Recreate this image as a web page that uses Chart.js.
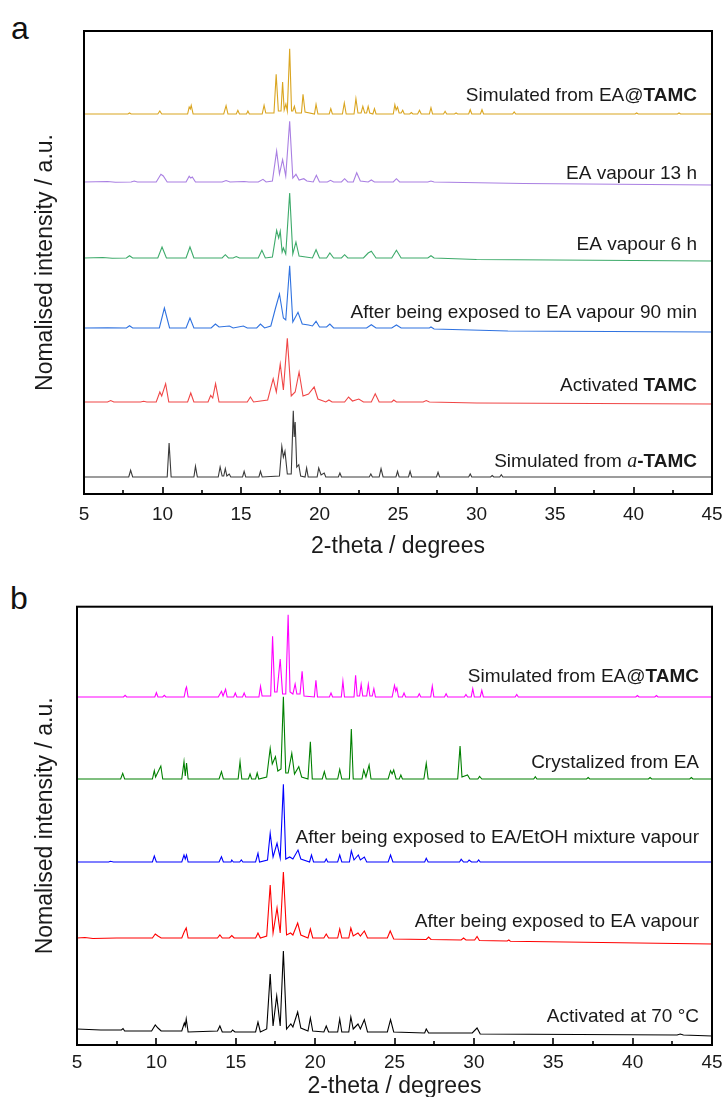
<!DOCTYPE html>
<html>
<head>
<meta charset="utf-8">
<script src="https://cdn.jsdelivr.net/npm/chart.js@4/dist/chart.umd.min.js"></script>
<style>
  html, body { margin: 0; padding: 0; background: #fff; }
  body { width: 723px; height: 1097px; position: relative; overflow: hidden; font-family: "Liberation Sans", Arial, sans-serif; }
  .wrap { position: absolute; left: 0; width: 723px; }
  .plabel { position: absolute; font-family: "Liberation Sans", Arial, sans-serif; font-size: 32px; line-height: 32px; color: #111; }
</style>
</head>
<body>
<div class="plabel" style="left:11px; top:12px;">a</div>
<div class="plabel" style="left:10px; top:582px;">b</div>
<div class="wrap" style="top:0; height:560px;"><canvas id="cA" width="723" height="560"></canvas></div>
<div class="wrap" style="top:560px; height:540px;"><canvas id="cB" width="723" height="540"></canvas></div>
<script>
// ---------- DATA (2-theta, intensity above own baseline, a.u.) ----------
// Panel a
const aSimEA = [[5,0],[7.8,0],[7.9,1],[8.0,0],[9.7,0],[9.83,3],[9.95,0],[11.6,0],[11.7,7],[11.77,5],[11.83,8.7],[11.95,0],
 [13.9,0],[14.05,8.3],[14.17,0],[14.7,0],[14.8,3.7],[14.9,0],[15.35,0],[15.44,3],[15.53,0],[16.35,0],[16.47,8.7],[16.58,1],
 [17.1,1],[17.24,39.7],[17.38,3],[17.55,3],[17.65,32],[17.75,4],[17.86,10],[17.95,3],[18.1,65.3],[18.22,3],[18.3,3],[18.4,7.7],[18.5,1],
 [18.85,1],[18.95,19.7],[19.08,2],[19.68,0],[19.78,9.7],[19.9,0],[20.62,0],[20.72,5.3],[20.82,0],[21.46,0],[21.58,11],[21.7,0],
 [22.2,0],[22.32,15.3],[22.45,1],[22.65,1],[22.76,7.7],[22.88,1],[23.0,1],[23.1,7.7],[23.2,1],[23.4,0],[23.5,5.3],[23.6,0],
 [24.7,0],[24.8,9.3],[24.88,4],[24.97,7],[25.07,1],[25.2,1],[25.3,3.7],[25.4,0],[25.75,0],[25.85,1.5],[25.95,0],[26.25,0],[26.37,3.7],[26.48,0],
 [27.0,0],[27.1,6.3],[27.2,0],[27.9,0],[28.0,2.7],[28.1,0],[28.6,0],[28.7,1],[28.8,0],[29.5,0],[29.6,4.3],[29.7,0],[30.25,0],[30.35,4.3],[30.45,0],
 [32.3,0],[32.4,2],[32.5,0],[40.1,0],[40.2,1],[40.3,0],[42.8,0],[42.9,1],[43.0,0],[45,0]];
const aVap13h = [[5,0],[6.5,0.5],[7.0,-0.3],[8.0,0],[8.2,1],[8.4,0],[9.6,0],[9.9,7.7],[10.05,6],[10.3,0],[11.5,0],[11.7,5.7],[11.8,4],[11.9,5],[12.1,0],
 [13.8,0],[14.05,1.5],[14.3,0],[15.2,0.5],[15.5,0],[16.1,0],[16.4,2.7],[16.6,0],[17.0,1],[17.27,31],[17.45,8],[17.65,22.3],[17.85,6],[18.1,60.7],[18.3,4],
 [18.5,7.7],[18.7,2],[19.0,3.3],[19.2,1],[19.6,0],[19.8,6.7],[20.0,0],[20.5,0],[20.7,1.7],[20.9,0],[21.4,0],[21.6,3.3],[21.8,0],
 [22.15,0],[22.37,9.3],[22.6,1],[23.1,0],[23.3,2],[23.5,0],[24.7,0],[24.9,3.3],[25.1,0],[26.9,0],[27.1,1],[27.3,0],[33,-1.5],[45,-3]];
const aVap6h = [[5,0],[6.2,0.5],[6.8,-0.3],[7.7,0],[7.9,2.3],[8.1,0],[9.7,0],[9.97,11],[10.25,0],[11.5,0],[11.75,11],[12.0,0],[13.8,0],[14.0,3.3],[14.2,0],
 [14.5,0],[14.7,1.5],[14.9,0],[16.1,0],[16.33,7.7],[16.55,0],[17.0,1],[17.27,27.7],[17.4,20],[17.5,26.7],[17.62,6],[17.7,10],[17.85,4],
 [18.1,65],[18.3,4],[18.5,16],[18.7,2],[19.55,0],[19.78,8.3],[20.0,0],[20.45,0],[20.66,5],[20.9,0],[21.4,0],[21.6,3.3],[21.8,0],
 [22.8,0],[23.1,5],[23.3,6.7],[23.6,0],[24.6,0],[24.9,7.7],[25.2,0],[26.9,0],[27.1,2.3],[27.3,0],[30,-1.5],[45,-3]];
const aVap90 = [[5,0],[6.5,0.3],[7.7,0],[7.9,2.3],[8.1,0],[9.8,0],[10.12,20],[10.45,0],[11.5,0],[11.75,10],[12.0,0],[13.1,0],[13.37,4],[13.6,1],
 [14.26,2],[14.5,0],[15.15,2],[15.4,0],[16.0,0],[16.24,4],[16.5,0],[16.9,2],[17.2,20],[17.45,34],[17.7,10],[17.85,8],[18.1,62.3],[18.3,6],
 [18.63,15.7],[18.9,4],[19.3,3],[19.55,2],[19.78,6.7],[20.0,1],[20.45,1],[20.66,4],[20.9,0],[23.0,0],[23.3,3.3],[23.6,0],
 [24.6,0],[24.9,3],[25.2,0],[27.0,0],[27.1,1],[27.3,-1],[32,-3],[45,-4]];
const aActiv = [[5,0],[6.5,0],[6.7,1.5],[6.9,0],[8.6,0],[8.8,0.8],[9.0,0],[9.6,0],[9.83,10],[9.95,6],[10.2,18.3],[10.4,0],[11.6,0],[11.8,9],[12.0,0],
 [12.9,0],[13.07,6.7],[13.2,4],[13.38,18.3],[13.6,0],[15.4,0],[15.6,5],[15.8,0],[16.7,2],[17.05,23.3],[17.25,10],[17.5,38],[17.7,12],
 [17.95,63.7],[18.2,6],[18.45,10],[18.7,30],[18.95,6],[19.3,8],[19.66,15],[19.9,3],[20.4,0],[20.6,2],[20.8,0],[21.6,0],[21.85,5],
 [22.1,1],[22.5,3],[22.8,0],[23.3,0],[23.55,8.3],[23.8,0],[24.6,0],[24.73,2],[24.9,0],[26.6,0],[26.8,1.5],[27,0],[30,-1],[45,-2]];
const aSimAlpha = [[5,0],[7.85,0],[7.97,6.7],[8.1,0],[10.3,0],[10.42,34],[10.55,0],[12.0,0],[12.1,10.7],[12.22,0],
 [13.55,0],[13.67,10],[13.8,1],[13.9,1],[14.0,8.3],[14.1,1],[14.25,3],[14.35,0],[15.1,0],[15.2,5.7],[15.3,0],[16.14,0],[16.24,5.7],[16.35,0],
 [17.45,1],[17.6,30.7],[17.7,20],[17.8,25.7],[17.95,3],[18.2,3],[18.33,66.3],[18.39,40],[18.45,55],[18.55,10],[18.68,12.3],[18.8,1],
 [19.08,0],[19.18,9],[19.28,0],[19.85,0],[19.95,9],[20.1,2],[20.3,4],[20.4,0],[21.2,0],[21.3,4],[21.4,0],[23.17,0],[23.27,3],[23.37,0],
 [23.8,0],[23.92,8.3],[24.05,0],[24.87,0],[24.97,5.7],[25.07,0],[25.67,0],[25.77,5.7],[25.87,0],[27.45,0],[27.55,4.7],[27.65,0],
 [29.5,0],[29.6,3],[29.7,0],[30.9,0],[31.0,1.5],[31.1,0],[31.48,0],[31.58,2.3],[31.68,0],[45,0]];
const aOffsets = [380, 312, 236, 166, 92, 17];
const aLabels = ["Simulated from EA@|TAMC", "EA vapour 13 h", "EA vapour 6 h", "After being exposed to EA vapour 90 min", "Activated |TAMC", "Simulated from |a|-TAMC"];

// Panel b
const bSimEA = [[5,0],[7.93,0],[8.03,1.7],[8.13,0],[9.9,0],[10.0,4.3],[10.1,0],[10.4,0],[10.5,1.7],[10.6,0],[11.75,0],[11.85,8],[11.9,10],[12.0,0],
 [13.9,0],[14.1,5.7],[14.2,1],[14.36,7.7],[14.46,0],[14.87,0],[14.97,4],[15.07,0],[15.43,0],[15.53,4],[15.63,0],[16.46,0],[16.56,10.7],[16.66,1],
 [17.2,1],[17.32,60.7],[17.45,5],[17.6,5],[17.8,38],[17.95,3],[18.15,3],[18.3,82.3],[18.42,5],[18.6,3],[18.74,13],[18.85,3],[19.05,3],[19.18,25.7],[19.3,1],
 [19.95,0],[20.05,16.7],[20.15,0],[20.9,0],[21.0,4],[21.1,0],[21.65,0],[21.75,15.7],[21.85,0],[22.45,0],[22.55,21.7],[22.65,1],[22.8,1],[22.9,12.7],[23.0,1],
 [23.25,1],[23.35,12.7],[23.45,1],[23.6,1],[23.7,8.3],[23.8,0],[24.85,0],[25.0,11.7],[25.08,6],[25.15,9],[25.25,0],[25.5,0],[25.6,4],[25.7,0],
 [26.46,0],[26.56,3.3],[26.66,0],[27.28,0],[27.38,11],[27.48,0],[28.15,0],[28.25,3.3],[28.35,0],[29.4,0],[29.5,2.5],[29.6,0],[29.83,0],[29.93,8.3],[30.03,0],
 [30.4,0],[30.5,6.7],[30.6,0],[32.6,0],[32.7,2.5],[32.8,0],[40.2,0],[40.3,1.5],[40.4,0],[41.4,0],[41.5,1.5],[41.6,0],[45,0]];
const bCrystEA = [[5,0],[7.75,0],[7.88,5.7],[8.0,0],[9.75,0],[9.87,8.3],[9.95,2],[10.28,13],[10.4,0],[11.6,0],[11.74,17.3],[11.82,3],[11.9,16],[12.0,0],
 [13.95,0],[14.1,7.3],[14.22,0],[15.15,0],[15.27,17.3],[15.38,0],[15.8,0],[15.9,5],[16.0,0],[16.25,0],[16.35,6],[16.45,0],
 [16.95,2],[17.17,30.7],[17.3,15],[17.5,22.3],[17.65,8],[17.85,10],[18.0,82.3],[18.15,6],[18.3,6],[18.53,25.7],[18.7,5],[18.97,12.3],[19.15,2],
 [19.55,0],[19.7,37.3],[19.82,0],[20.45,0],[20.58,7.3],[20.7,0],[21.42,0],[21.55,9.7],[21.68,0],[22.16,0],[22.28,50],[22.4,0],
 [22.95,0],[23.06,9],[23.2,2],[23.4,14],[23.52,0],[24.6,0],[24.75,8.3],[24.85,5],[24.95,9],[25.1,0],[25.3,0],[25.4,4],[25.5,0],
 [26.85,0],[27.0,15.7],[27.12,0],[28.98,0],[29.13,33],[29.25,2],[29.6,4],[29.75,0],[30.25,0],[30.36,2.5],[30.5,0],
 [33.77,0],[33.87,2.3],[33.97,0],[37.1,0],[37.2,1.5],[37.3,0],[41.0,0],[41.1,1.5],[41.2,0],[43.6,0],[43.7,1.5],[43.8,0],[45,0]];
const bMixVap = [[5,0],[7.0,0],[7.1,0.7],[7.3,0],[9.75,0],[9.87,6],[10.0,0],[11.6,0],[11.74,7],[11.82,3],[11.9,7],[12.0,0],
 [13.95,0],[14.1,5.3],[14.22,0],[14.7,0],[14.75,2],[14.85,0],[15.25,0],[15.35,2],[15.45,0],[16.25,0],[16.4,8.7],[16.5,0],
 [17.0,2],[17.17,28.7],[17.35,5],[17.6,18.7],[17.8,4],[18.0,77.7],[18.15,3],[18.4,5],[18.6,3],[18.92,12],[19.1,3],
 [19.65,0],[19.77,7],[19.9,0],[20.6,0],[20.7,3],[20.8,0],[21.42,0],[21.55,7],[21.68,0],[22.16,0],[22.28,11],[22.45,2],[22.72,7],[22.85,2],[23.1,5],[23.25,0],
 [24.6,0],[24.75,7],[24.9,0],[26.9,0],[27.0,3.7],[27.12,0],[29.1,0],[29.2,2.7],[29.35,0],[29.6,0],[29.7,2],[29.85,0],[30.2,0],[30.3,2],[30.4,0],[45,0]];
const bEAVap = [[5,0],[5.5,0.5],[6,-0.5],[7.5,0],[9.75,0],[9.93,4],[10.1,2],[10.3,0],[11.6,0],[11.75,6],[11.88,10],[12.0,0],
 [13.85,0],[14.0,3],[14.15,0],[14.6,0],[14.75,2.5],[14.9,0],[16.25,0],[16.4,5],[16.55,0],
 [16.95,2],[17.17,53],[17.35,5],[17.6,30],[17.8,5],[18.0,66],[18.2,3],[18.45,5],[18.6,3],[18.9,15],[19.1,3],
 [19.55,0],[19.7,9],[19.85,0],[20.55,0],[20.7,4],[20.85,0],[21.42,0],[21.55,9],[21.68,0],[22.12,0],[22.25,10],[22.4,2],[22.7,5],[22.85,2],[23.1,7],[23.3,0],
 [24.55,0],[24.73,7],[24.95,-1],[27.0,-1.5],[27.15,1],[27.3,-1.5],[29.2,-2],[29.35,0],[29.5,-2],[30.05,-2],[30.2,1.5],[30.35,-2.5],[32.1,-3],[32.2,-2],[32.3,-3.2],[45,-6]];
const bAct70 = [[5,0],[6.5,-1],[7.8,-1],[7.9,0.5],[8.0,-2],[9.7,-2],[9.93,4],[10.1,1],[10.3,-2],[11.6,-2],[11.76,6],[11.82,3],[11.88,10],[12.0,-3],
 [13.85,-2],[14.0,3],[14.15,-3],[14.7,-3],[14.8,-1],[14.95,-3],[16.25,-3],[16.4,7],[16.55,-3],
 [16.95,0],[17.17,55],[17.35,3],[17.58,33],[17.8,3],[18.0,78],[18.2,0],[18.47,5],[18.6,2],[18.9,17],[19.1,1],
 [19.55,-2],[19.7,11],[19.85,-2],[20.55,-3],[20.7,3],[20.85,-3],[21.42,-3],[21.55,10],[21.68,-3],[22.12,-3],[22.25,12],[22.4,0],[22.7,5],[22.85,0],[23.1,9.3],[23.3,-3],
 [24.55,-3],[24.75,9.3],[24.95,-3],[26.9,-4],[27.0,0],[27.15,-4],[29.9,-4],[30.2,1],[30.4,-5],[42.8,-6],[43,-5],[43.2,-6],[45,-7]];
const bOffsets = [348, 266, 183, 107, 16];
const bLabels = ["Simulated from EA@|TAMC", "Crystalized from EA", "After being exposed to EA/EtOH mixture vapour", "After being exposed to EA vapour", "Activated at 70 °C"];

const xTicks = [5, 10, 15, 20, 25, 30, 35, 40, 45];
const xMinor = [7.5, 12.5, 17.5, 22.5, 27.5, 32.5, 37.5, 42.5];

// ---------- STYLE ----------
const FONT = '"Liberation Sans", Arial, sans-serif';
const panelA = {
  series: [aSimEA, aVap13h, aVap6h, aVap90, aActiv, aSimAlpha],
  offsets: aOffsets, labels: aLabels,
  colors: ['#DAA520', '#A97FE2', '#3DAA6A', '#2F72E0', '#F04646', '#3A3A3A'],
  labelDy: [18.7, 8.7, 13.3, 15, 16.7, 15.6],
  labelRight: 697, yMax: 463, yAxisW: 84, xAxisH: 66, padTop: 31, tickPad: 9
};
const panelB = {
  series: [bSimEA, bCrystEA, bMixVap, bEAVap, bAct70],
  offsets: bOffsets, labels: bLabels,
  colors: ['#FF00FF', '#008000', '#0000FF', '#FF0000', '#000000'],
  labelDy: [20, 16, 24, 16, 12],
  labelRight: 699, yMax: 438.3, yAxisW: 77, xAxisH: 55, padTop: 46.7, tickPad: 6
};

function drawLabel(ctx, text, xRight, yMid) {
  const parts = text.split('|');
  const fonts = parts.map((p, i) => {
    if (p === 'a') return 'italic 20px "Liberation Serif", serif';
    if (i > 0 && /^(TAMC|-TAMC)$/.test(p)) return 'bold 19px ' + FONT;
    return '19px ' + FONT;
  });
  ctx.save();
  ctx.textBaseline = 'middle';
  ctx.textAlign = 'left';
  ctx.fillStyle = '#1a1a1a';
  let total = 0;
  const widths = parts.map((p, i) => { ctx.font = fonts[i]; const w = ctx.measureText(p).width; total += w; return w; });
  let x = xRight - total;
  parts.forEach((p, i) => { ctx.font = fonts[i]; ctx.fillText(p, x, yMid); x += widths[i]; });
  ctx.restore();
}

const framePlugin = {
  id: 'frame',
  afterDraw(chart, args, opts) {
    const {ctx, chartArea: ca, scales} = chart;
    const xs = scales.x, ys = scales.y;
    ctx.save();
    ctx.strokeStyle = '#000';
    ctx.lineWidth = 2;
    ctx.strokeRect(ca.left, ca.top, ca.right - ca.left, ca.bottom - ca.top);
    ctx.lineWidth = 1.6;
    ctx.beginPath();
    xTicks.forEach(v => { const px = Math.round(xs.getPixelForValue(v)); ctx.moveTo(px, ca.bottom); ctx.lineTo(px, ca.bottom - 7); });
    xMinor.forEach(v => { const px = Math.round(xs.getPixelForValue(v)); ctx.moveTo(px, ca.bottom); ctx.lineTo(px, ca.bottom - 4); });
    ctx.stroke();
    ctx.restore();
    const p = opts.panel;
    p.labels.forEach((t, i) => {
      const yMid = ys.getPixelForValue(p.offsets[i]) - p.labelDy[i];
      drawLabel(ctx, t, p.labelRight, yMid);
    });
  }
};

function makeChart(id, p) {
  const datasets = p.series.map((s, i) => ({
    data: s.map(([x, h]) => ({x: x, y: p.offsets[i] + h})),
    borderColor: p.colors[i], borderWidth: 1.1, pointRadius: 0, tension: 0, fill: false
  }));
  return new Chart(document.getElementById(id), {
    type: 'line',
    data: { datasets },
    options: {
      responsive: false, animation: false, events: [],
      layout: { padding: { left: 0, right: 11, top: p.padTop, bottom: 0 } },
      plugins: { legend: { display: false }, tooltip: { enabled: false }, frame: { panel: p } },
      scales: {
        x: {
          type: 'linear', min: 5, max: 45,
          ticks: { stepSize: 5, padding: p.tickPad, color: '#1a1a1a', font: { family: FONT, size: 19 } },
          grid: { display: false, drawTicks: false }, border: { display: false },
          title: { display: true, text: '2-theta / degrees', color: '#1a1a1a', font: { family: FONT, size: 23 }, padding: { top: 0, bottom: 0 } },
          afterFit: (s) => { s.height = p.xAxisH; s.paddingLeft = 0; s.paddingRight = 0; }
        },
        y: {
          min: 0, max: p.yMax,
          ticks: { display: false }, grid: { display: false, drawTicks: false }, border: { display: false },
          title: { display: true, text: 'Nomalised intensity / a.u.', color: '#1a1a1a', font: { family: FONT, size: 23 }, padding: { top: 31.5, bottom: 0 } },
          afterFit: (s) => { s.width = p.yAxisW; s.paddingTop = 0; s.paddingBottom = 0; }
        }
      }
    },
    plugins: [framePlugin]
  });
}
makeChart('cA', panelA);
makeChart('cB', panelB);
</script>
</body>
</html>
